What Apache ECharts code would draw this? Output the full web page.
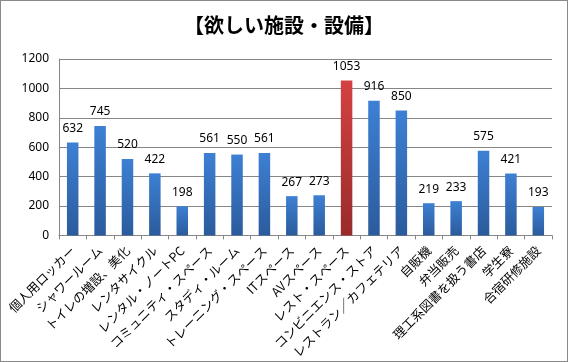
<!DOCTYPE html>
<html><head><meta charset="utf-8">
<script src="https://cdn.jsdelivr.net/npm/echarts@6/dist/echarts.min.js"></script>
<style>html,body{margin:0;padding:0;background:#fff}#c{width:568px;height:362px;box-sizing:border-box;border:1px solid #8a8a8a}</style>
</head><body><div id="c"></div>
<script>
const titleText = "【欲しい施設・設備】";
const categories = ["個人用ロッカー","シャワールーム","トイレの増設、美化","レンタサイクル","レンタル・ノートPC","コミュニティ・スペース","スタディ・ルーム","トレーニング・スペース","ITスペース","AVスペース","レスト・スペース","コンビニエンス・ストア","レストラン／カフェテリア","自販機","弁当販売","理工系図書を扱う書店","学生寮","合宿研修施設"];
const values = [632,745,520,422,198,561,550,561,267,273,1053,916,850,219,233,575,421,193];
const highlightIndex = 10;
const yTicks = [0,200,400,600,800,1000,1200];

const blue = new echarts.graphic.LinearGradient(0,0,0,1,[{offset:0,color:'#3d80d4'},{offset:1,color:'#2b5b9c'}]);
const red = new echarts.graphic.LinearGradient(0,0,0,1,[{offset:0,color:'#d44242'},{offset:1,color:'#9a2b2b'}]);
const jp = '"Noto Sans CJK JP","Noto Sans",sans-serif';

const chart = echarts.init(document.getElementById('c'));
chart.setOption({
  animation:false,
  title:{text:titleText,left:'center',top:9,textStyle:{fontFamily:jp,fontSize:20,fontWeight:'bold',color:'#000'}},
  grid:{left:58,right:15,top:58,bottom:125,containLabel:false},
  xAxis:{type:'category',data:categories,
    axisLine:{lineStyle:{color:'#868686'}},
    axisTick:{show:true,alignWithLabel:false,length:4,lineStyle:{color:'#868686'}},
    axisLabel:{rotate:45,interval:0,fontFamily:jp,fontSize:12.5,color:'#000',margin:13}},
  yAxis:{type:'value',min:yTicks[0],max:yTicks[yTicks.length-1],interval:200,
    axisLine:{show:true,lineStyle:{color:'#868686'}},
    axisTick:{show:false},
    splitLine:{lineStyle:{color:'#868686'}},
    axisLabel:{formatter:v=>String(v),fontFamily:'"Noto Sans",sans-serif',fontSize:12,color:'#000',margin:10}},
  series:[{type:'bar',barWidth:'42%',
    data:values.map((v,i)=>({value:v,itemStyle:{color:i===highlightIndex?red:blue}})),
    label:{show:true,position:'top',distance:8,fontFamily:'"Noto Sans",sans-serif',fontSize:12,color:'#000'}}]
});
</script></body></html>
